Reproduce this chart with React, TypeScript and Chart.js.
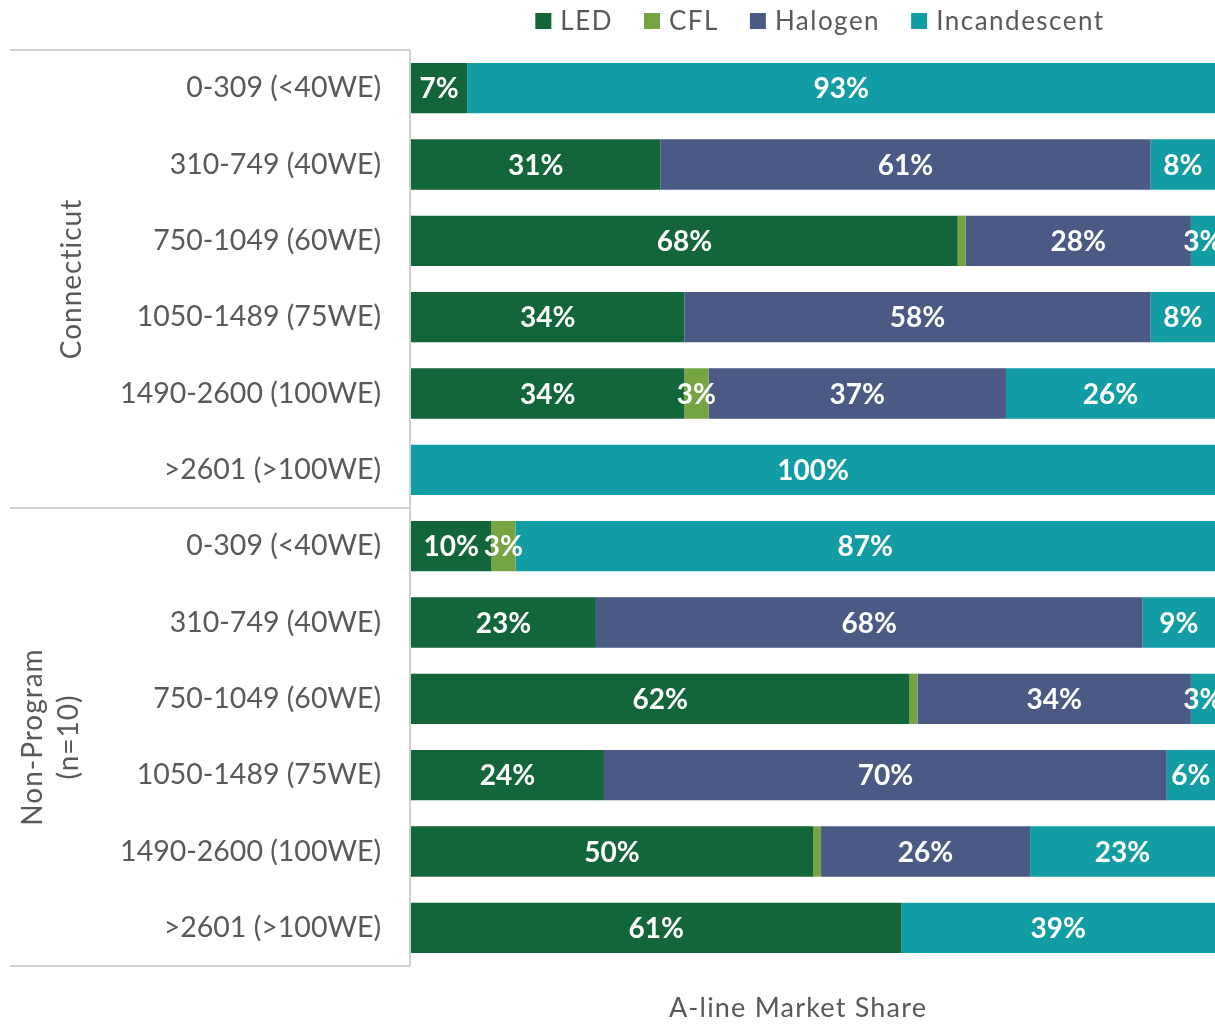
import React, { useEffect, useRef } from "react";
import { Chart, registerables } from "chart.js";

Chart.register(...registerables);

const categories = [
  "0-309 (<40WE)",
  "310-749 (40WE)",
  "750-1049 (60WE)",
  "1050-1489 (75WE)",
  "1490-2600 (100WE)",
  ">2601 (>100WE)",
  "0-309 (<40WE)",
  "310-749 (40WE)",
  "750-1049 (60WE)",
  "1050-1489 (75WE)",
  "1490-2600 (100WE)",
  ">2601 (>100WE)",
];

const groups = ["Connecticut", "Non-Program\n(n=10)"];

const ledValues = [7, 31, 68, 34, 34, 0, 10, 23, 62, 24, 50, 61];
const cflValues = [0, 0, 1, 0, 3, 0, 3, 0, 1, 0, 1, 0];
const halogenValues = [0, 61, 28, 58, 37, 0, 0, 68, 34, 70, 26, 0];
const incandescentValues = [93, 8, 3, 8, 26, 100, 87, 9, 3, 6, 23, 39];

const seriesNames = ["LED", "CFL", "Halogen", "Incandescent"];
const seriesColors = ["#13653A", "#76A443", "#4A5A84", "#129DA4"];

const axisTitle = "A-line Market Share";

const FONT = "Lato, 'Open Sans', sans-serif";
const GRAY = "#595959";
const LINE = "#D0D0D0";

const overlayPlugin = {
  id: "overlay",
  afterDatasetsDraw(chart: any) {
    const ctx = chart.ctx;
    ctx.save();
    ctx.fillStyle = "#FFFFFF";
    ctx.font = `bold 28px ${FONT}`;
    ctx.textAlign = "center";
    ctx.textBaseline = "middle";
    chart.data.datasets.forEach((ds: any, di: number) => {
      const meta = chart.getDatasetMeta(di);
      meta.data.forEach((el: any, i: number) => {
        const v = ds.data[i];
        if (v >= 3) {
          const cx = (el.x + el.base) / 2;
          ctx.fillText(`${v}%`, cx, el.y + 1);
        }
      });
    });
    ctx.restore();
  },
  afterDraw(chart: any) {
    const ctx = chart.ctx;
    const area = chart.chartArea;
    const yScale = chart.scales.y;
    ctx.save();

    ctx.strokeStyle = LINE;
    ctx.lineWidth = 2;
    const rowH = yScale.getPixelForValue(1) - yScale.getPixelForValue(0);
    const topY = yScale.getPixelForValue(0) - rowH / 2;
    const midY = yScale.getPixelForValue(5) + rowH / 2;
    const botY = yScale.getPixelForValue(11) + rowH / 2;
    const lx = area.left - 1;
    ctx.beginPath();
    ctx.moveTo(10, topY);
    ctx.lineTo(lx, topY);
    ctx.moveTo(10, midY);
    ctx.lineTo(lx, midY);
    ctx.moveTo(10, botY);
    ctx.lineTo(lx, botY);
    ctx.moveTo(lx, topY);
    ctx.lineTo(lx, botY);
    ctx.stroke();

    ctx.fillStyle = GRAY;
    ctx.font = `28px ${FONT}`;
    (ctx as any).letterSpacing = "1px";
    ctx.textAlign = "center";
    ctx.textBaseline = "middle";
    const g1y = (topY + midY) / 2;
    ctx.save();
    ctx.translate(72, g1y);
    ctx.rotate(-Math.PI / 2);
    ctx.fillText(groups[0], 0, 0);
    ctx.restore();
    const g2y = (midY + botY) / 2;
    const lines = groups[1].split("\n");
    ctx.save();
    ctx.translate(51, g2y);
    ctx.rotate(-Math.PI / 2);
    ctx.fillText(lines[0], 0, -18);
    ctx.fillText(lines[1], 0, 18);
    ctx.restore();

    ctx.font = `27px ${FONT}`;
    (ctx as any).letterSpacing = "1.2px";
    ctx.fillText(axisTitle, 798, 1008);

    ctx.font = `26px ${FONT}`;
    (ctx as any).letterSpacing = "1.5px";
    ctx.textAlign = "left";
    const box = 16;
    const gapBoxText = 9;
    const gapItems = 31;
    const widths = seriesNames.map((n) => ctx.measureText(n).width);
    let total = 0;
    widths.forEach((w, i) => {
      total += box + gapBoxText + w + (i < widths.length - 1 ? gapItems : 0);
    });
    let x = 820 - total / 2;
    const ly = 21;
    seriesNames.forEach((n, i) => {
      ctx.fillStyle = seriesColors[i];
      ctx.fillRect(x, ly - box / 2, box, box);
      ctx.fillStyle = GRAY;
      ctx.fillText(n, x + box + gapBoxText, ly + 1);
      x += box + gapBoxText + widths[i] + gapItems;
    });

    ctx.restore();
  },
};

export default function App() {
  const canvasRef = useRef<HTMLCanvasElement | null>(null);

  useEffect(() => {
    if (!canvasRef.current) return;
    const values = [ledValues, cflValues, halogenValues, incandescentValues];
    const chart = new Chart(canvasRef.current, {
      type: "bar",
      data: {
        labels: categories,
        datasets: seriesNames.map((name, i) => ({
          label: name,
          data: values[i],
          backgroundColor: seriesColors[i],
          borderWidth: 0,
          categoryPercentage: 1,
          barPercentage: 0.66,
        })),
      },
      options: {
        indexAxis: "y",
        animation: false,
        responsive: false,
        maintainAspectRatio: false,
        layout: { padding: { top: 50, bottom: 59, left: 0, right: 0 } },
        plugins: {
          legend: { display: false },
          tooltip: { enabled: false },
        },
        scales: {
          x: {
            stacked: true,
            min: 0,
            max: 100,
            display: false,
          },
          y: {
            stacked: true,
            grid: { display: false, drawTicks: false },
            border: { display: false },
            ticks: {
              color: GRAY,
              font: { family: FONT, size: 28.5 },
              padding: 30,
              autoSkip: false,
            },
            afterFit(scale: any) {
              scale.width = 411;
            },
          },
        },
      },
      plugins: [overlayPlugin],
    } as any);
    return () => chart.destroy();
  }, []);

  return (
    <div style={{ position: "absolute", left: 0, top: 0, width: 1215, height: 1025, background: "#fff" }}>
      <canvas ref={canvasRef} width={1215} height={1025} style={{ display: "block" }} />
    </div>
  );
}
